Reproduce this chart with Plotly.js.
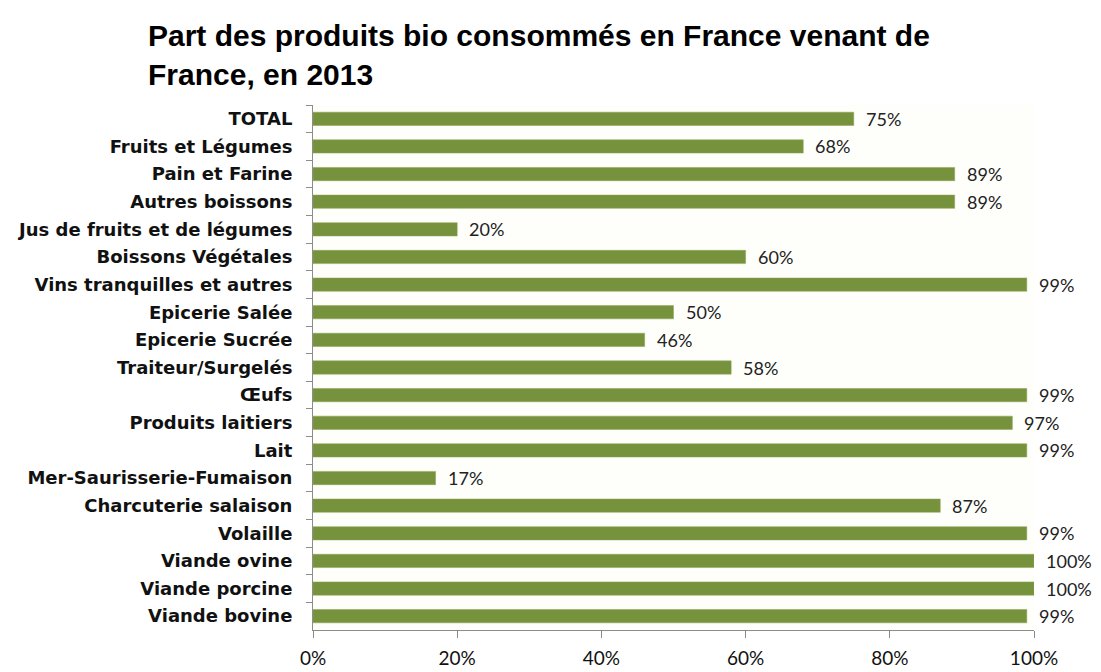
<!DOCTYPE html>
<html><head><meta charset="utf-8">
<script src="https://cdn.plot.ly/plotly-3.0.1.min.js"></script>
<style>html,body{margin:0;padding:0;background:#fff;}</style>
</head><body><div id="chart" style="width:1101px;height:672px;"></div>
<script>
const categories = ["TOTAL","Fruits et Légumes","Pain et Farine","Autres boissons","Jus de fruits et de légumes","Boissons Végétales","Vins tranquilles et autres","Epicerie Salée","Epicerie Sucrée","Traiteur/Surgelés","Œufs","Produits laitiers","Lait","Mer-Saurisserie-Fumaison","Charcuterie salaison","Volaille","Viande ovine","Viande porcine","Viande bovine"];
const values = [75,68,89,89,20,60,99,50,46,58,99,97,99,17,87,99,100,100,99];
const xTicks = [0,20,40,60,80,100];
const xTickLabels = ["0%","20%","40%","60%","80%","100%"];
const titleText = "Part des produits bio consommés en France venant de<br>France, en 2013";

const annotations = categories.map((c,i)=>({
  x: values[i], y: c, xref:'x', yref:'y', text: values[i]+'%',
  showarrow:false, xanchor:'left', xshift:10,
  font:{family:'Lato, "Open Sans", sans-serif', size:18, color:'#222'}
}));

const trace = {
  type:'bar', orientation:'h', x: values, y: categories,
  marker:{color:'#77923c', line:{color:'#8aa552', width:0.5}},
  hoverinfo:'x+y'
};

const layout = {
  width:1101, height:672,
  margin:{l:313, r:67, t:105, b:42},
  paper_bgcolor:'#ffffff', plot_bgcolor:'#fefefa',
  bargap:0.52,
  showlegend:false,
  title:{text:titleText, xref:'container', yref:'container', x:148/1101, xanchor:'left', y:1-46/672, yanchor:'top',
    font:{family:'"Liberation Sans", Arial, sans-serif', size:30, color:'#000', weight:'bold'}},
  xaxis:{range:[0,100], tickvals:xTicks, ticktext:xTickLabels, showgrid:false, zeroline:false,
    showline:true, linecolor:'#8c8c8c', linewidth:1, ticks:'outside', ticklen:7, tickcolor:'#8c8c8c',
    tickfont:{family:'Lato, "Open Sans", sans-serif', size:19, color:'#111'}, ticklabelstandoff:4, fixedrange:true},
  yaxis:{type:'category', autorange:'reversed', showgrid:false, zeroline:false,
    showline:true, linecolor:'#8c8c8c', linewidth:1, ticks:'outside', ticklen:6, tickcolor:'#8c8c8c',
    tickson:'boundaries', ticklabelstandoff:16,
    tickfont:{family:'"DejaVu Sans", Verdana, sans-serif', size:18, color:'#111', weight:'bold'}, fixedrange:true},
  annotations: annotations
};
Plotly.newPlot('chart',[trace],layout,{displayModeBar:false,staticPlot:true});
</script></body></html>
